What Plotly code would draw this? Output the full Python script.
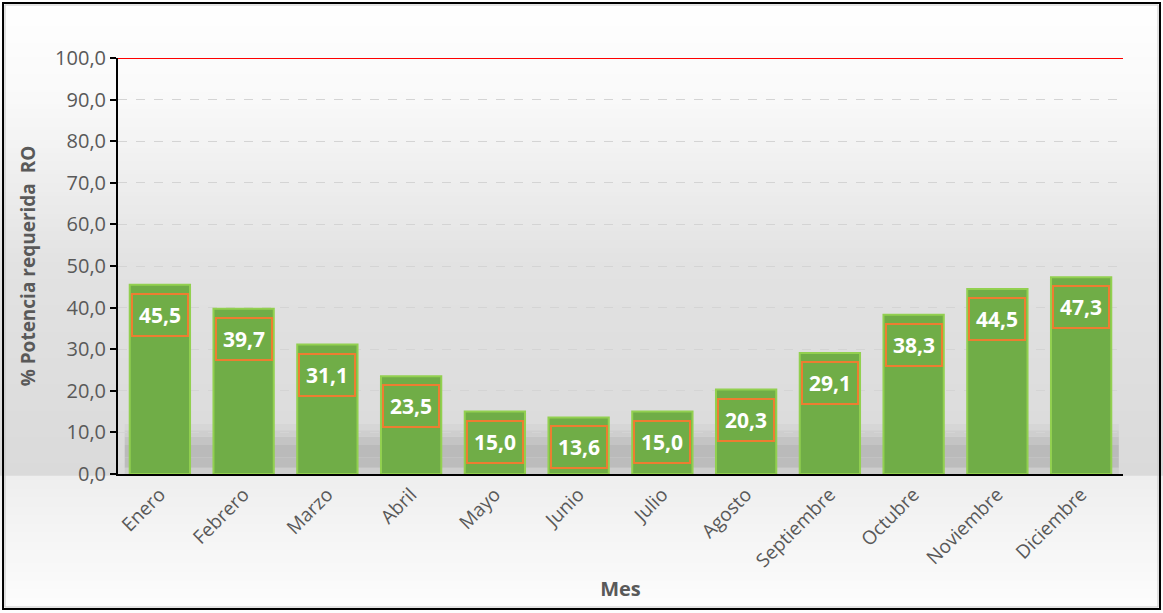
import plotly.graph_objects as go

meses = ["Enero", "Febrero", "Marzo", "Abril", "Mayo", "Junio", "Julio",
         "Agosto", "Septiembre", "Octubre", "Noviembre", "Diciembre"]
potencia = [45.5, 39.7, 31.1, 23.5, 15.0, 13.6, 15.0, 20.3, 29.1, 38.3, 44.5, 47.3]
y_ticks = [0, 10, 20, 30, 40, 50, 60, 70, 80, 90, 100]

GREEN = "#70AD47"
GREEN_EDGE = "#92D050"
ORANGE = "#ED7D31"
TEXT_GREY = "#595959"
FONT = "Open Sans"


def fmt(v):
    return f"{v:.1f}".replace(".", ",")


def grey(level):
    return f"rgb({level},{level},{level})"


fig = go.Figure()

fig.add_trace(go.Bar(
    x=meses,
    y=potencia,
    width=0.72,
    marker=dict(color=GREEN, line=dict(color=GREEN_EDGE, width=2)),
    hoverinfo="skip",
    showlegend=False,
))

# value labels in orange boxes
for m, v in zip(meses, potencia):
    fig.add_annotation(
        x=m, y=v, yanchor="top", yshift=-8,
        text=f"<b>{fmt(v)}</b>", showarrow=False,
        font=dict(family=FONT, size=21, color="white"),
        bordercolor=ORANGE, borderwidth=2, borderpad=6,
    )

# background gradient (paper coords): white at top, grey toward floor,
# lighter again below the axis
stops = [(1.14, 255), (0.9, 249), (0.5, 226), (0.0, 218), (-0.001, 238), (-0.33, 253)]
steps = 140
y_top, y_bot = stops[0][0], stops[-1][0]
dy = (y_top - y_bot) / steps


def level_at(y):
    for (y0, c0), (y1, c1) in zip(stops, stops[1:]):
        if y1 <= y <= y0:
            t = (y0 - y) / (y0 - y1)
            return int(round(c0 + (c1 - c0) * t))
    return 255


for i in range(steps):
    a = y_top - dy * i
    b = a - dy
    fig.add_shape(type="rect", xref="paper", yref="paper",
                  x0=-0.12, x1=1.04, y0=b - dy * 0.6, y1=a,
                  fillcolor=grey(level_at((a + b) / 2)), line=dict(width=0),
                  layer="below")

# soft shadow behind the bars near the floor
shadow = [(0, 1.5, 205), (1.5, 4, 188), (4, 7, 186), (7, 9, 196),
          (9, 10.5, 206), (10.5, 12, 214)]
for y0, y1, c in shadow:
    fig.add_shape(type="rect", xref="x", yref="y", x0=-0.42, x1=11.45,
                  y0=y0, y1=y1, fillcolor=grey(c), line=dict(width=0),
                  layer="below")

# red limit line at 100 %
fig.add_shape(type="line", xref="paper", yref="y", x0=0, x1=1, y0=100, y1=100,
              line=dict(color="#FF0000", width=2))

# outer frame
fig.add_shape(type="rect", xref="paper", yref="paper",
              x0=-0.1144, x1=1.0368, y0=-0.3245, y1=1.1322,
              line=dict(color="black", width=2), fillcolor="rgba(0,0,0,0)")
fig.add_shape(type="rect", xref="paper", yref="paper",
              x0=-0.1124, x1=1.0348, y0=-0.3197, y1=1.1274,
              line=dict(color="#c8c8c8", width=1), fillcolor="rgba(0,0,0,0)")

fig.update_layout(
    width=1163, height=613,
    margin=dict(l=118, r=40, t=58, b=139),
    paper_bgcolor="white",
    plot_bgcolor="rgba(0,0,0,0)",
    font=dict(family=FONT, color=TEXT_GREY),
)
fig.update_xaxes(
    showline=True, linecolor="black", linewidth=2,
    tickangle=-45, tickfont=dict(size=19, color=TEXT_GREY),
    title=dict(text="<b>Mes</b>", font=dict(size=20, color=TEXT_GREY), standoff=10),
    showgrid=False,
)
fig.update_yaxes(
    range=[0, 100], tickvals=y_ticks, ticktext=[fmt(t) for t in y_ticks],
    showline=True, linecolor="black", linewidth=2,
    ticks="outside", ticklen=6, tickcolor="black", tickwidth=2,
    tickfont=dict(size=20, color=TEXT_GREY),
    showgrid=True, gridcolor="#d4d4d4", griddash="dash", gridwidth=1,
    zeroline=False,
    title=dict(text="<b>% Potencia requerida  RO</b>", font=dict(size=19, color=TEXT_GREY), standoff=14),
)

fig.write_html("out.html", config={"displayModeBar": False},
               post_script="document.body.style.margin='0';")
